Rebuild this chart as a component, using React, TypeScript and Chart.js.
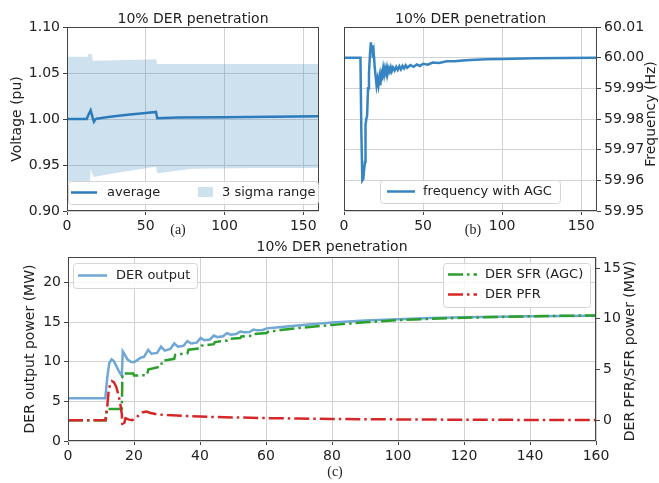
import React, { useEffect, useRef } from 'react';
import { Chart, registerables } from 'chart.js';
Chart.register(...registerables);

const FONT = '"DejaVu Sans", sans-serif';
const SERIF = '"Liberation Serif", "DejaVu Serif", serif';
const TXT = '#222222';
const GRID = '#d2d2d2';
const TICKC = '#444444';
const FRAME = '#444444';

// ---------- Panel (a): voltage ----------
const voltTime = [0, 12.5, 13.5, 15.0, 16.2, 17.1, 18.0, 19.0, 20, 25, 30, 40, 50, 56.5, 57.3, 70, 100, 130, 160];
const voltAvg = [1.0, 1.0, 1.004, 1.0095, 1.002, 0.997, 0.9995, 1.0005, 1.0005, 1.002, 1.003, 1.0048, 1.0065, 1.0077, 1.0008, 1.0015, 1.002, 1.0025, 1.003];
const bandTime = [0, 13.3, 13.5, 14.5, 15.0, 15.8, 16.5, 17.0, 30, 45, 56.5, 57.3, 80, 120, 160];
const bandUpper = [1.0677, 1.0677, 1.0707, 1.0707, 1.0707, 1.0707, 1.0634, 1.0634, 1.0638, 1.0643, 1.065, 1.0598, 1.0598, 1.0598, 1.0598];
const bandLower = [0.932, 0.932, 0.929, 0.929, 0.946, 0.941, 0.939, 0.937, 0.941, 0.945, 0.948, 0.941, 0.946, 0.9467, 0.9467];
const voltTicks = [0.9, 0.95, 1.0, 1.05, 1.1];
const xTicksAB = [0, 50, 100, 150];

// ---------- Panel (b): frequency ----------
const freqTime = [0, 10.4, 11.0, 11.6, 12.2, 12.8, 13.3, 13.6, 14.1, 14.6, 15.2, 15.8, 16.4, 17.0, 17.5, 17.9, 18.3, 18.8, 19.4, 20.0, 20.6, 21.2, 21.8, 22.4, 23.0, 23.6, 24.2, 24.8, 25.4, 26.0, 26.6, 27.2, 27.8, 28.4, 29.0, 29.6, 30.2, 31, 32, 33, 34, 35, 36, 37, 38, 39, 40, 42, 44, 46, 48, 50, 53, 56, 60, 65, 70, 75, 80, 90, 100, 120, 140, 160];
const freqVal = [60.0, 60.0, 59.975, 59.96, 59.9605, 59.964, 59.966, 59.978, 59.98, 59.981, 59.99, 59.995, 60.001, 60.005, 60.002, 60.004, 60.0, 60.0015, 59.997, 59.994, 59.991, 59.993, 59.991, 59.9935, 59.991, 59.995, 59.994, 59.9965, 59.9945, 59.9965, 59.995, 59.9968, 59.9952, 59.9965, 59.9955, 59.9968, 59.9956, 59.9968, 59.9958, 59.997, 59.996, 59.9972, 59.9962, 59.9973, 59.9965, 59.9975, 59.9967, 59.9976, 59.997, 59.9978, 59.9973, 59.998, 59.9977, 59.9984, 59.9983, 59.9988, 59.9988, 59.9991, 59.9992, 59.9995, 59.9996, 59.9998, 59.9999, 60.0];
const freqTicks = [59.95, 59.96, 59.97, 59.98, 59.99, 60.0, 60.01];

// ---------- Panel (c): DER power ----------
const outTime = [0, 11.3, 11.9, 12.5, 13.2, 13.8, 14.6, 15.4, 16.3, 16.6, 17.2, 18.0, 19.0, 20.0, 21.0, 22.0, 23.0, 24.3, 25.3, 27.0, 28.2, 29.3, 31.0, 32.2, 33.3, 35.0, 36.2, 37.3, 39.0, 40.2, 41.3, 43, 44.2, 45.3, 47, 48.2, 49.3, 51, 52.2, 53.3, 55, 56.2, 57.3, 59, 60.2, 64, 68, 72, 76, 80, 90, 100, 110, 120, 130, 140, 150, 160];
const outVal = [5.4, 5.4, 8.0, 9.8, 10.3, 10.1, 9.5, 8.8, 8.2, 11.3, 10.9, 10.3, 10.0, 9.95, 10.2, 10.5, 10.6, 11.5, 11.0, 11.1, 11.9, 11.4, 11.6, 12.3, 11.9, 12.0, 12.6, 12.3, 12.4, 13.0, 12.7, 12.8, 13.3, 13.1, 13.2, 13.6, 13.4, 13.5, 13.8, 13.7, 13.75, 14.05, 13.95, 14.0, 14.2, 14.35, 14.5, 14.65, 14.8, 14.95, 15.2, 15.35, 15.5, 15.6, 15.67, 15.72, 15.77, 15.8];
const sfrTime = [0, 11.5, 11.7, 16.3, 16.5, 19.8, 20.0, 24.0, 24.3, 28.2, 28.5, 32.2, 32.5, 36.2, 36.5, 40.2, 40.5, 44.2, 44.5, 48.2, 48.5, 52.2, 52.5, 56.2, 56.5, 60.2, 60.5, 64.5, 70, 80, 90, 100, 110, 120, 130, 140, 150, 160];
const sfrVal = [0, 0, 1.1, 1.1, 4.6, 4.6, 4.4, 4.45, 5.0, 5.3, 5.85, 6.05, 6.45, 6.6, 6.95, 7.1, 7.35, 7.5, 7.7, 7.85, 8.0, 8.1, 8.25, 8.35, 8.5, 8.6, 8.7, 8.9, 9.1, 9.4, 9.65, 9.87, 10.0, 10.1, 10.18, 10.25, 10.3, 10.33];
const pfrTime = [0, 11.3, 11.8, 12.3, 12.8, 13.3, 13.9, 14.6, 15.3, 15.9, 16.3, 16.5, 16.9, 17.4, 18.5, 19.5, 20.5, 21.5, 22.5, 23.8, 25, 26.5, 28, 30, 33, 36, 40, 45, 50, 60, 70, 80, 100, 120, 140, 160];
const pfrVal = [0, 0, 1.0, 2.8, 3.6, 3.85, 3.75, 3.3, 2.5, 1.5, 0.6, -0.6, -0.5, 0.2, 0.05, 0.0, 0.2, 0.5, 0.75, 0.85, 0.7, 0.6, 0.55, 0.5, 0.45, 0.4, 0.35, 0.3, 0.27, 0.2, 0.16, 0.12, 0.07, 0.04, 0.02, 0.0];
const xTicksC = [0, 20, 40, 60, 80, 100, 120, 140, 160];
const leftTicksC = [0, 5, 10, 15, 20];
const rightTicksC = [0, 5, 10, 15];

const AVG_C = '#2b7bba';
const BAND_C = 'rgba(31,119,180,0.22)';
const FREQ_C = '#3685c2';
const OUT_C = '#6fa7d6';
const SFR_C = '#2ca02c';
const PFR_C = '#d62728';
const DASHDOT = [15, 4, 2.5, 4];

const xy = (t: number[], v: number[]) => t.map((x, i) => ({ x, y: v[i] }));
const fixTicks = (vals: number[]) => (axis: any) => {
  axis.ticks = vals.map((v) => ({ value: v }));
};

function scale(opts: any) {
  const { min, max, ticks, size, horizontal, fmt, position, grid = true } = opts;
  return {
    type: 'linear',
    position,
    min,
    max,
    afterBuildTicks: fixTicks(ticks),
    afterFit: (s: any) => {
      if (horizontal) s.height = size;
      else s.width = size;
    },
    grid: {
      color: GRID,
      tickColor: TICKC,
      tickLength: 4,
      drawOnChartArea: grid,
      lineWidth: 1,
    },
    border: { display: false },
    ticks: {
      font: { family: FONT, size: 14 },
      color: TXT,
      padding: 3,
      maxRotation: 0,
      autoSkip: false,
      callback: (v: any) => (fmt ? fmt(Number(v)) : String(v)),
    },
  };
}

function roundRect(ctx: CanvasRenderingContext2D, x: number, y: number, w: number, h: number, r: number) {
  ctx.beginPath();
  ctx.moveTo(x + r, y);
  ctx.lineTo(x + w - r, y);
  ctx.quadraticCurveTo(x + w, y, x + w, y + r);
  ctx.lineTo(x + w, y + h - r);
  ctx.quadraticCurveTo(x + w, y + h, x + w - r, y + h);
  ctx.lineTo(x + r, y + h);
  ctx.quadraticCurveTo(x, y + h, x, y + h - r);
  ctx.lineTo(x, y + r);
  ctx.quadraticCurveTo(x, y, x + r, y);
  ctx.closePath();
}

function legendBox(ctx: CanvasRenderingContext2D, x: number, y: number, w: number, h: number) {
  roundRect(ctx, x + 0.5, y + 0.5, w, h, 3);
  ctx.fillStyle = 'rgba(255,255,255,0.82)';
  ctx.fill();
  ctx.strokeStyle = '#d4d4d4';
  ctx.lineWidth = 1;
  ctx.stroke();
}

function legendLine(ctx: CanvasRenderingContext2D, x1: number, x2: number, y: number, color: string, dash: number[] | null, width = 2.5) {
  ctx.save();
  ctx.beginPath();
  ctx.strokeStyle = color;
  ctx.lineWidth = width;
  ctx.setLineDash(dash || []);
  ctx.moveTo(x1, y);
  ctx.lineTo(x2, y);
  ctx.stroke();
  ctx.restore();
}

function text(ctx: CanvasRenderingContext2D, s: string, x: number, y: number, opts: any = {}) {
  ctx.save();
  ctx.font = opts.font || `14px ${FONT}`;
  ctx.fillStyle = opts.color || TXT;
  ctx.textAlign = opts.align || 'left';
  ctx.textBaseline = opts.baseline || 'middle';
  ctx.translate(x, y);
  if (opts.rotate) ctx.rotate(opts.rotate);
  ctx.fillText(s, 0, 0);
  ctx.restore();
}

function frame(ctx: CanvasRenderingContext2D, chart: any) {
  const a = chart.chartArea;
  ctx.save();
  ctx.strokeStyle = FRAME;
  ctx.lineWidth = 1;
  ctx.strokeRect(Math.round(a.left) + 0.5, Math.round(a.top) + 0.5, Math.round(a.right - a.left) - 1, Math.round(a.bottom - a.top) - 1);
  ctx.restore();
}

const deco = (draw: (ctx: CanvasRenderingContext2D, chart: any) => void) => ({
  id: 'deco',
  afterDraw(chart: any) {
    const ctx = chart.ctx;
    ctx.save();
    frame(ctx, chart);
    draw(ctx, chart);
    ctx.restore();
  },
});

const W = 659;
const H = 483;

const base = (padding: any) => ({
  responsive: false,
  animation: false,
  events: [],
  layout: { padding },
  elements: { point: { radius: 0 }, line: { tension: 0 } },
  plugins: { legend: { display: false }, tooltip: { enabled: false }, title: { display: false } },
});

function configA(): any {
  return {
    type: 'line',
    data: {
      datasets: [
        { label: 'average', data: xy(voltTime, voltAvg), borderColor: AVG_C, borderWidth: 2.5, fill: false, order: 0 },
        { label: 'lower', data: xy(bandTime, bandLower), borderColor: 'rgba(0,0,0,0)', borderWidth: 1, fill: false, order: 2 },
        { label: '3 sigma range', data: xy(bandTime, bandUpper), borderColor: 'rgba(0,0,0,0)', borderWidth: 1, backgroundColor: BAND_C, fill: '-1', order: 1 },
      ],
    },
    options: {
      ...base({ left: 0, top: 27, right: W - 319, bottom: H - 211 - 30 }),
      scales: {
        x: scale({ min: 0, max: 160, ticks: xTicksAB, size: 30, horizontal: true, position: 'bottom' }),
        y: scale({ min: 0.9, max: 1.1, ticks: voltTicks, size: 67, position: 'left', fmt: (v: number) => v.toFixed(2) }),
      },
    },
    plugins: [
      deco((ctx) => {
        legendBox(ctx, 68, 181, 250, 23);
        legendLine(ctx, 71, 97, 192.5, AVG_C, null);
        text(ctx, 'average', 107, 192.5, { font: `13px ${FONT}` });
        ctx.fillStyle = BAND_C;
        ctx.fillRect(198, 187, 15, 10);
        text(ctx, '3 sigma range', 222, 192.5, { font: `13px ${FONT}` });
        text(ctx, '10% DER penetration', 193, 23, { align: 'center', baseline: 'alphabetic' });
        text(ctx, 'Voltage (pu)', 17, 119, { align: 'center', rotate: -Math.PI / 2 });
        text(ctx, '(a)', 178, 234, { align: 'center', baseline: 'alphabetic', font: `14px ${SERIF}` });
      }),
    ],
  };
}

function configB(): any {
  return {
    type: 'line',
    data: {
      datasets: [{ label: 'frequency with AGC', data: xy(freqTime, freqVal), borderColor: FREQ_C, borderWidth: 2.5, fill: false }],
    },
    options: {
      ...base({ left: 344, top: 27, right: 0, bottom: H - 211 - 30 }),
      scales: {
        x: scale({ min: 0, max: 160, ticks: xTicksAB, size: 30, horizontal: true, position: 'bottom' }),
        y: scale({ min: 59.95, max: 60.01, ticks: freqTicks, size: W - 597, position: 'right', fmt: (v: number) => v.toFixed(2) }),
      },
    },
    plugins: [
      deco((ctx) => {
        legendBox(ctx, 380, 180, 180, 23);
        legendLine(ctx, 387, 415, 191.5, FREQ_C, null);
        text(ctx, 'frequency with AGC', 423, 191.5, { font: `13px ${FONT}` });
        text(ctx, '10% DER penetration', 470.5, 23, { align: 'center', baseline: 'alphabetic' });
        text(ctx, 'Frequency (Hz)', 651, 114, { align: 'center', rotate: -Math.PI / 2 });
        text(ctx, '(b)', 473, 234, { align: 'center', baseline: 'alphabetic', font: `14px ${SERIF}` });
      }),
    ],
  };
}

function configC(): any {
  return {
    type: 'line',
    data: {
      datasets: [
        { label: 'DER output', data: xy(outTime, outVal), borderColor: OUT_C, borderWidth: 2.5, fill: false, yAxisID: 'y', order: 3 },
        { label: 'DER SFR (AGC)', data: xy(sfrTime, sfrVal), borderColor: SFR_C, borderWidth: 2.5, borderDash: DASHDOT, fill: false, yAxisID: 'y2', order: 2 },
        { label: 'DER PFR', data: xy(pfrTime, pfrVal), borderColor: PFR_C, borderWidth: 2.5, borderDash: DASHDOT, fill: false, yAxisID: 'y2', order: 1 },
      ],
    },
    options: {
      ...base({ left: 0, top: 257, right: 0, bottom: H - 441 - 30 }),
      scales: {
        x: scale({ min: 0, max: 160, ticks: xTicksC, size: 30, horizontal: true, position: 'bottom' }),
        y: scale({ min: 0, max: 23.2, ticks: leftTicksC, size: 68, position: 'left' }),
        y2: scale({ min: -2.06, max: 16.1, ticks: rightTicksC, size: W - 596, position: 'right', grid: false }),
      },
    },
    plugins: [
      deco((ctx) => {
        legendBox(ctx, 73, 263, 124, 25);
        legendLine(ctx, 78, 107, 275.5, OUT_C, null);
        text(ctx, 'DER output', 116, 275.5, { font: `13px ${FONT}` });
        legendBox(ctx, 443, 263, 147, 44);
        legendLine(ctx, 448, 477, 274.5, SFR_C, DASHDOT);
        text(ctx, 'DER SFR (AGC)', 485, 274.5, { font: `13px ${FONT}` });
        legendLine(ctx, 448, 477, 294.5, PFR_C, DASHDOT);
        text(ctx, 'DER PFR', 485, 294.5, { font: `13px ${FONT}` });
        text(ctx, '10% DER penetration', 332, 251, { align: 'center', baseline: 'alphabetic' });
        text(ctx, 'DER output power (MW)', 30, 349, { align: 'center', rotate: -Math.PI / 2 });
        text(ctx, 'DER PFR/SFR power (MW)', 630, 351, { align: 'center', rotate: -Math.PI / 2 });
        text(ctx, '(c)', 335, 476, { align: 'center', baseline: 'alphabetic', font: `14px ${SERIF}` });
      }),
    ],
  };
}

function Panel({ make }: { make: () => any }) {
  const ref = useRef<HTMLCanvasElement | null>(null);
  useEffect(() => {
    if (!ref.current) return;
    const chart = new Chart(ref.current, make());
    return () => chart.destroy();
  }, [make]);
  return <canvas ref={ref} width={W} height={H} style={{ position: 'absolute', left: 0, top: 0, width: W, height: H }} />;
}

export default function App() {
  return (
    <div style={{ position: 'absolute', left: 0, top: 0, width: W, height: H, background: '#ffffff', overflow: 'hidden' }}>
      <Panel make={configA} />
      <Panel make={configB} />
      <Panel make={configC} />
    </div>
  );
}
